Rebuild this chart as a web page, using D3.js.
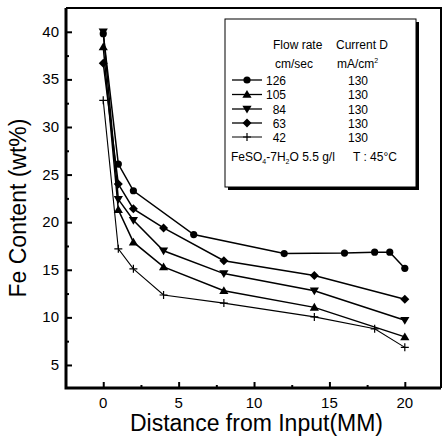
<html>
<head>
<script type="text/javascript" src="https://cdnjs.cloudflare.com/ajax/libs/d3/7.8.5/d3.min.js"></script>
<style>
  body { margin: 0; background: #fff; }
  text { font-family: "Liberation Sans", Arial, sans-serif; fill: #000; }
</style>
</head>
<body>
<div id="chart"></div>
<script type="text/javascript">
// data
var flowRates = ["126", "105", "84", "63", "42"];
var currentD = ["130", "130", "130", "130", "130"];
var markers = ["circle", "triUp", "triDown", "diamond", "plus"];

var dist126 = [0, 1, 2, 6, 12, 16, 18, 19, 20];
var fe126 = [39.8, 26.1, 23.3, 18.7, 16.7, 16.75, 16.85, 16.85, 15.15];
var dist105 = [0, 1, 2, 4, 8, 14, 20];
var fe105 = [38.4, 21.3, 17.9, 15.3, 12.8, 11.05, 7.95];
var dist84 = [0, 1, 2, 4, 8, 14, 20];
var fe84 = [40.0, 22.4, 20.2, 17.0, 14.6, 12.8, 9.7];
var dist63 = [0, 1, 2, 4, 8, 14, 20];
var fe63 = [36.7, 24.0, 21.4, 19.4, 15.95, 14.4, 11.9];
var dist42 = [0, 1, 2, 4, 8, 14, 18, 20];
var fe42 = [32.8, 17.2, 15.1, 12.35, 11.5, 10.05, 8.8, 6.85];

var xTicks = [0, 5, 10, 15, 20];
var yTicks = [5, 10, 15, 20, 25, 30, 35, 40];

var series = [
  { name: flowRates[0], x: dist126, y: fe126, marker: markers[0] },
  { name: flowRates[1], x: dist105, y: fe105, marker: markers[1] },
  { name: flowRates[2], x: dist84, y: fe84, marker: markers[2] },
  { name: flowRates[3], x: dist63, y: fe63, marker: markers[3] },
  { name: flowRates[4], x: dist42, y: fe42, marker: markers[4] }
];

var W = 444, H = 437;
var pL = 66, pR = 441, pT = 8, pB = 388;

var svg = d3.select("#chart").append("svg")
  .attr("width", W).attr("height", H);

var x = d3.scaleLinear().domain([-2.47, 22.4]).range([pL, pR]);
var y = d3.scaleLinear().domain([2.58, 42.5]).range([pB, pT]);

// marker drawing
function drawMarker(g, type, cx, cy) {
  if (type == "circle") {
    g.append("circle").attr("cx", cx).attr("cy", cy).attr("r", 3.6).attr("fill", "#000");
  } else if (type == "triUp") {
    g.append("path").attr("d", "M" + cx + "," + (cy - 4.5) + "L" + (cx + 4.6) + "," + (cy + 3.3) + "L" + (cx - 4.6) + "," + (cy + 3.3) + "Z").attr("fill", "#000");
  } else if (type == "triDown") {
    g.append("path").attr("d", "M" + cx + "," + (cy + 4.5) + "L" + (cx + 4.6) + "," + (cy - 3.3) + "L" + (cx - 4.6) + "," + (cy - 3.3) + "Z").attr("fill", "#000");
  } else if (type == "diamond") {
    g.append("path").attr("d", "M" + cx + "," + (cy - 4.5) + "L" + (cx + 4.5) + "," + cy + "L" + cx + "," + (cy + 4.5) + "L" + (cx - 4.5) + "," + cy + "Z").attr("fill", "#000");
  } else {
    g.append("path").attr("d", "M" + (cx - 4) + "," + cy + "H" + (cx + 4) + "M" + cx + "," + (cy - 4) + "V" + (cy + 4))
      .attr("stroke", "#000").attr("stroke-width", 1.2);
  }
}

// axes with inward ticks
var xAxis = d3.axisTop(x).tickValues(xTicks).tickSize(6).tickFormat("");
var xMinor = d3.axisTop(x).tickValues([2.5, 7.5, 12.5, 17.5]).tickSize(3).tickFormat("");
var yAxis = d3.axisRight(y).tickValues(yTicks).tickSize(6).tickFormat("");
var yMinor = d3.axisRight(y).tickValues([7.5, 12.5, 17.5, 22.5, 27.5, 32.5, 37.5]).tickSize(3).tickFormat("");

[xAxis, xMinor].forEach(function(a) {
  var g = svg.append("g").attr("transform", "translate(0," + pB + ")").call(a);
  g.select(".domain").remove();
  g.selectAll("line").attr("stroke", "#000").attr("stroke-width", 2);
});
[yAxis, yMinor].forEach(function(a) {
  var g = svg.append("g").attr("transform", "translate(" + pL + ",0)").call(a);
  g.select(".domain").remove();
  g.selectAll("line").attr("stroke", "#000").attr("stroke-width", 2);
});

// tick labels
svg.selectAll(".xl").data(xTicks).enter().append("text")
  .attr("x", function(d) { return x(d); }).attr("y", pB + 20)
  .attr("text-anchor", "middle").attr("font-size", 15).text(function(d) { return d; });
svg.selectAll(".yl").data(yTicks).enter().append("text")
  .attr("x", pL - 7).attr("y", function(d) { return y(d) + 5; })
  .attr("text-anchor", "end").attr("font-size", 15).text(function(d) { return d; });

// frame
svg.append("path").attr("d", "M" + pL + "," + pT + "H" + pR + "V" + pB)
  .attr("fill", "none").attr("stroke", "#000").attr("stroke-width", 2);
svg.append("path").attr("d", "M" + pL + "," + pT + "V" + pB + "H" + pR)
  .attr("fill", "none").attr("stroke", "#000").attr("stroke-width", 3);

// axis titles
svg.append("text").attr("x", (pL + pR) / 2 + 3).attr("y", 431)
  .attr("text-anchor", "middle").attr("font-size", 23).text("Distance from Input(MM)");
svg.append("text").attr("transform", "translate(26,208) rotate(-90)")
  .attr("text-anchor", "middle").attr("font-size", 23).text("Fe Content (wt%)");

// series
var line = d3.line().x(function(d) { return x(d[0]); }).y(function(d) { return y(d[1]); });
series.forEach(function(s, i) {
  var pts = s.x.map(function(v, j) { return [v, s.y[j]]; });
  svg.append("path").datum(pts).attr("d", line)
    .attr("fill", "none").attr("stroke", "#000").attr("stroke-width", i == 4 ? 1.1 : 1.5);
  var g = svg.append("g");
  pts.forEach(function(p) { drawMarker(g, s.marker, x(p[0]), y(p[1])); });
});

// legend box with shadow
var lx = 225, ly = 19, lw = 191, lh = 168;
svg.append("rect").attr("x", lx + 3).attr("y", ly + 3).attr("width", lw).attr("height", lh).attr("fill", "#000");
svg.append("rect").attr("x", lx).attr("y", ly).attr("width", lw).attr("height", lh)
  .attr("fill", "#fff").attr("stroke", "#000").attr("stroke-width", 1);

svg.append("text").attr("x", 273).attr("y", 49).attr("font-size", 12).text("Flow rate");
svg.append("text").attr("x", 336).attr("y", 49).attr("font-size", 12).text("Current D");
svg.append("text").attr("x", 275).attr("y", 68).attr("font-size", 12).text("cm/sec");
var mt = svg.append("text").attr("x", 337).attr("y", 68).attr("font-size", 12).text("mA/cm");
mt.append("tspan").attr("dy", -5).attr("font-size", 7).text("2");

var rowY = [80, 94.5, 109, 123, 137];
series.forEach(function(s, i) {
  var ry = rowY[i];
  svg.append("line").attr("x1", 232).attr("x2", 262).attr("y1", ry).attr("y2", ry)
    .attr("stroke", "#000").attr("stroke-width", i == 4 ? 1 : 1.3);
  drawMarker(svg, s.marker, 247, ry);
  svg.append("text").attr("x", 286).attr("y", ry + 4.5).attr("text-anchor", "end")
    .attr("font-size", 12).text(s.name);
  svg.append("text").attr("x", 358).attr("y", ry + 4.5).attr("text-anchor", "middle")
    .attr("font-size", 12).text(currentD[i]);
});

var ft = svg.append("text").attr("x", 231).attr("y", 161).attr("font-size", 12);
ft.append("tspan").text("FeSO");
ft.append("tspan").attr("dy", 3).attr("font-size", 7).text("4");
ft.append("tspan").attr("dy", -3).text("-7H");
ft.append("tspan").attr("dy", 3).attr("font-size", 7).text("2");
ft.append("tspan").attr("dy", -3).text("O 5.5 g/l");
svg.append("text").attr("x", 353).attr("y", 161).attr("font-size", 12).text("T : 45\u00B0C");
</script>
</body>
</html>
